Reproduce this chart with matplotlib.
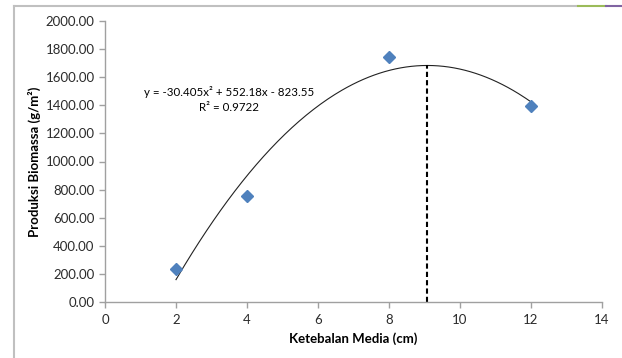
import numpy as np
import matplotlib.pyplot as plt
from matplotlib.lines import Line2D

plt.rcParams["font.family"] = ["Lato", "DejaVu Sans"]

# data
ketebalan = [2, 4, 8, 12]
biomassa = [235, 755, 1745, 1395]
# excel quadratic trendline coefficients (a, b, c)
coef = [-30.405, 552.18, -823.55]
r2 = 0.9722

x_ticks = [0, 2, 4, 6, 8, 10, 12, 14]
y_ticks = [0, 200, 400, 600, 800, 1000, 1200, 1400, 1600, 1800, 2000]

fig = plt.figure(figsize=(6.22, 3.58), dpi=100)
ax = fig.add_axes([105 / 622, 56 / 358, 497 / 622, 281 / 358])

# trendline over data range
xs = np.linspace(min(ketebalan), max(ketebalan), 200)
ax.plot(xs, np.polyval(coef, xs), color="#222222", lw=0.8, zorder=2)

ax.plot(ketebalan, biomassa, "D", color="#4F81BD", ms=6.5, mec="#4F81BD", zorder=3)

# vertex of the parabola
x_top = -coef[1] / (2 * coef[0])
y_top = np.polyval(coef, x_top)
ax.plot([x_top, x_top], [0, y_top], color="black", lw=1.5, ls=(0, (2.5, 1.5)), zorder=2)

ax.text(3.5, 1495, "y = -30.405x² + 552.18x - 823.55", ha="center", va="center",
        fontsize=8.3, color="black")
ax.text(3.5, 1381, "R² = %.4f" % r2, ha="center", va="center", fontsize=8.3, color="black")

ax.set_xlim(0, 14)
ax.set_ylim(0, 2000)
ax.set_xticks(x_ticks)
ax.set_yticks(y_ticks)
ax.set_yticklabels(["%.2f" % v for v in y_ticks])

for s in ["top", "right"]:
    ax.spines[s].set_visible(False)
for s in ["left", "bottom"]:
    ax.spines[s].set_color("#A0A0A0")
    ax.spines[s].set_linewidth(1.0)
ax.tick_params(colors="#A0A0A0", labelcolor="#2b2b2b", labelsize=9.5, length=4, width=1.0)
ax.tick_params(axis="x", pad=5)

ax.set_xlabel("Ketebalan Media (cm)", fontsize=9.5, fontweight="bold", labelpad=4)
ax.set_ylabel("Produksi Biomassa (g/m²)", fontsize=9.5, fontweight="bold", labelpad=3)

# chart area border bits (left and top edges visible)
fig.add_artist(Line2D([14 / 622, 14 / 622], [0, 352 / 358], color="#C0C0C0", lw=1.5))
fig.add_artist(Line2D([14 / 622, 578 / 622], [352 / 358, 352 / 358], color="#C0C0C0", lw=1.5))
fig.add_artist(Line2D([578 / 622, 606 / 622], [352 / 358, 352 / 358], color="#9BBB59", lw=1.5))
fig.add_artist(Line2D([606 / 622, 1], [352 / 358, 352 / 358], color="#8064A2", lw=1.5))

fig.savefig("out.png", dpi=100)
